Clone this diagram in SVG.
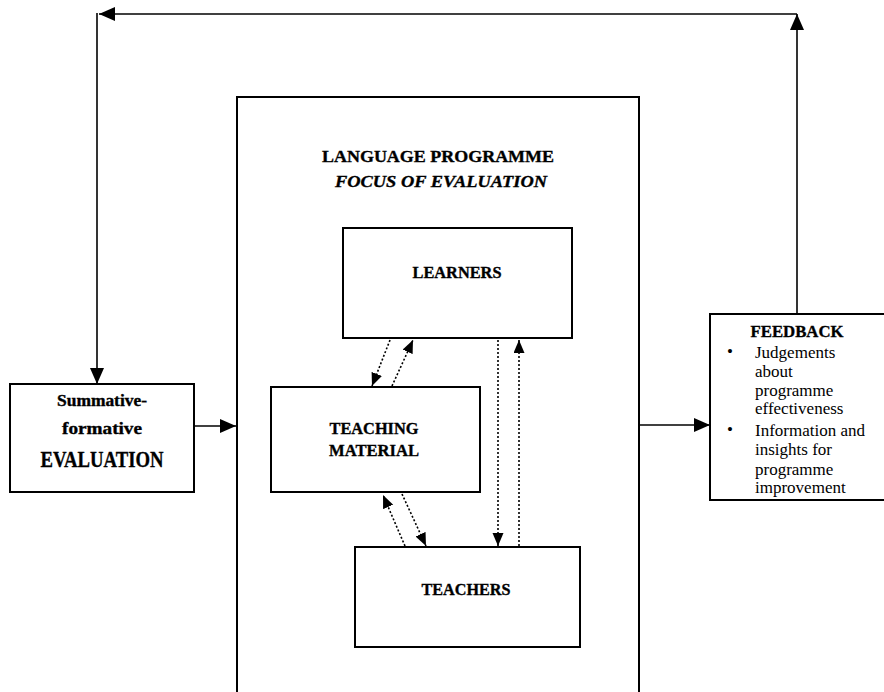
<svg xmlns="http://www.w3.org/2000/svg" width="884" height="692" viewBox="0 0 884 692">
<style>
.box{fill:#fff;stroke:#000;stroke-width:2}
.ln{fill:none;stroke:#000;stroke-width:1.6}
.dt{fill:none;stroke:#000;stroke-width:1.6;stroke-dasharray:2 2}
.b{font-family:"Liberation Serif","DejaVu Serif",serif;font-weight:bold;fill:#000;stroke:#000;stroke-width:0.35;text-anchor:middle}
.r{font-family:"Liberation Serif","DejaVu Serif",serif;fill:#000;font-size:17px}
</style>
<defs>
<marker id="ah" markerUnits="userSpaceOnUse" markerWidth="17" markerHeight="15" refX="16" refY="7" orient="auto">
<path d="M0,0 L16,7 L0,14 z" fill="#000"/>
</marker>
<marker id="dh" markerUnits="userSpaceOnUse" markerWidth="14" markerHeight="12" refX="13" refY="5.5" orient="auto">
<path d="M0,0 L13,5.5 L0,11 z" fill="#000"/>
</marker>
</defs>

<g id="programme">
<path class="box" d="M237,700 V97 H639 V700"/>
<text class="b" x="438" y="162" font-size="17.5" textLength="232" lengthAdjust="spacingAndGlyphs">LANGUAGE PROGRAMME</text>
<text class="b" x="441" y="187" font-size="17.5" font-style="italic" textLength="212" lengthAdjust="spacingAndGlyphs">FOCUS OF EVALUATION</text>
</g>

<g id="evaluation">
<rect class="box" x="10" y="384" width="184" height="108"/>
<text class="b" x="102" y="406" font-size="16" textLength="90" lengthAdjust="spacingAndGlyphs">Summative-</text>
<text class="b" x="102" y="434" font-size="16" textLength="80" lengthAdjust="spacingAndGlyphs">formative</text>
<text class="b" x="102" y="467" font-size="23" textLength="123" lengthAdjust="spacingAndGlyphs">EVALUATION</text>
</g>

<g id="learners">
<rect class="box" x="343" y="228" width="229" height="110"/>
<text class="b" x="457" y="278" font-size="17" textLength="89" lengthAdjust="spacingAndGlyphs">LEARNERS</text>
</g>

<g id="material">
<rect class="box" x="271" y="387" width="209" height="105"/>
<text class="b" x="374" y="434" font-size="17" textLength="89" lengthAdjust="spacingAndGlyphs">TEACHING</text>
<text class="b" x="374" y="456" font-size="17" textLength="90" lengthAdjust="spacingAndGlyphs">MATERIAL</text>
</g>

<g id="teachers">
<rect class="box" x="355" y="547" width="225" height="100"/>
<text class="b" x="466" y="595" font-size="17" textLength="89" lengthAdjust="spacingAndGlyphs">TEACHERS</text>
</g>

<g id="feedback">
<path class="box" d="M890,314 H710 V500 H890"/>
<text class="b" x="797" y="337" font-size="17" textLength="93" lengthAdjust="spacingAndGlyphs">FEEDBACK</text>
<text class="r" x="727" y="357">•</text>
<text class="r" x="755" y="358">Judgements</text>
<text class="r" x="755" y="377">about</text>
<text class="r" x="755" y="396">programme</text>
<text class="r" x="755" y="414">effectiveness</text>
<text class="r" x="727" y="435">•</text>
<text class="r" x="755" y="436">Information and</text>
<text class="r" x="755" y="455">insights for</text>
<text class="r" x="755" y="475">programme</text>
<text class="r" x="755" y="493">improvement</text>
</g>

<g id="connectors">
<path class="ln" d="M797,314 V14" marker-end="url(#ah)"/>
<path class="ln" d="M797,14 H99" marker-end="url(#ah)"/>
<path class="ln" d="M97,13 V384" marker-end="url(#ah)"/>
<path class="ln" d="M194,426 H236" marker-end="url(#ah)"/>
<path class="ln" d="M640,425 H710" marker-end="url(#ah)"/>
<path class="dt" d="M390,340 L372,386" marker-end="url(#dh)"/>
<path class="dt" d="M392,386 L413,340" marker-end="url(#dh)"/>
<path class="dt" d="M402,494 L426,546" marker-end="url(#dh)"/>
<path class="dt" d="M405,546 L383,495" marker-end="url(#dh)"/>
<path class="dt" d="M498,340 V546" marker-end="url(#dh)"/>
<path class="dt" d="M519,546 V340" marker-end="url(#dh)"/>
</g>
</svg>
